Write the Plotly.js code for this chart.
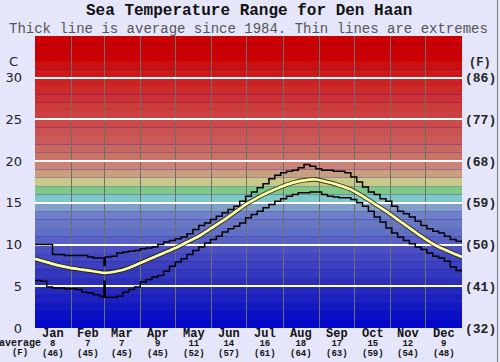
<!DOCTYPE html>
<html>
<head>
<meta charset="utf-8">
<script src="https://cdn.plot.ly/plotly-3.0.1.min.js"></script>
<style>
html,body{margin:0;padding:0;background:#e6e6fa;}
#wrap{position:relative;width:500px;height:362px;}
#chart{position:absolute;left:0;top:0;width:500px;height:362px;}
#frame{position:absolute;left:0;top:0;width:498px;height:362px;box-sizing:border-box;border-right:1px solid #777;pointer-events:none;}
</style>
</head>
<body>
<div id="wrap"><div id="chart"></div><div id="frame"></div></div>
<script>
// ---- data ----
var months = ["Jan","Feb","Mar","Apr","May","Jun","Jul","Aug","Sep","Oct","Nov","Dec"];
var monthMid = [15.5,45,74.5,105,135.5,166,196.5,227.5,258,288.5,319,349.5];
var monthStart = [0,31,59,90,120,151,181,212,243,273,304,334,365];
var avgC = [8,7,7,9,11,14,16,18,17,15,12,9];
var avgF = [46,45,45,45,52,57,61,64,63,59,54,48];

var extDays = [0,5,10,15,20,25,30,35,40,45,50,55,58,59,60,65,70,75,80,85,90,95,100,105,110,115,120,125,130,135,140,145,150,155,160,165,170,175,180,185,190,195,200,205,210,215,220,225,230,235,240,245,250,255,260,265,270,275,280,285,290,295,300,305,310,315,320,325,330,335,340,345,350,355,360,365];
var maxT = [10.0,10.0,10.0,8.8,8.8,8.7,8.7,8.7,8.7,8.5,8.4,8.4,8.4,7.5,8.5,8.6,9.0,9.1,9.2,9.3,9.5,9.6,9.7,10.0,10.3,10.5,10.7,10.9,11.3,11.8,12.3,12.6,13.0,13.4,13.8,14.2,14.6,15.2,15.8,16.3,16.8,17.3,17.9,18.3,18.6,18.8,18.9,19.2,19.6,19.4,19.1,18.9,18.9,18.8,18.8,18.6,18.1,17.5,16.9,16.3,16.0,15.5,15.2,14.6,14.0,13.7,13.3,12.8,12.3,11.9,11.6,11.4,11.0,10.6,10.4,10.2];
var minT = [5.7,5.6,4.9,4.8,4.8,4.7,4.7,4.6,4.3,4.2,4.0,3.8,3.7,5.6,3.7,3.7,3.8,4.3,4.6,4.9,5.5,5.8,6.1,6.3,6.8,7.4,7.9,8.3,8.8,9.3,9.7,10.2,10.6,11.0,11.5,11.9,12.2,12.6,13.2,13.6,14.0,14.4,14.8,15.2,15.5,15.8,16.0,16.2,16.2,16.3,16.3,16.0,15.8,15.7,15.6,15.6,15.4,15.0,14.6,14.0,13.3,12.7,12.0,11.4,10.9,10.5,10.1,9.7,9.4,9.0,8.6,8.4,8.0,7.3,6.9,6.7];

var avgDays = [0,10,20,30,40,50,60,70,80,90,100,110,120,130,140,150,160,170,180,190,200,210,220,230,240,250,260,270,280,290,300,310,320,330,340,350,360,365];
var avgT = [8.3,7.9,7.5,7.2,7.0,6.8,6.6,6.8,7.2,7.8,8.4,9.0,9.6,10.3,11.0,11.9,12.8,13.8,14.8,15.6,16.3,16.9,17.4,17.7,17.8,17.5,17.1,16.6,15.8,14.9,14.0,13.0,12.0,11.0,10.1,9.4,8.8,8.5];

var cTicks = [0,5,10,15,20,25,30];
var fTicks = [32,41,50,59,68,77,86];
var fTickText = ["(32)","(41)","(50)","(59)","(68)","(77)","(86)"];

var titleText = "Sea Temperature Range for Den Haan";
var subtitleText = "Thick line is average since 1984. Thin lines are extremes";

// one colour per 1-degree band, from 0-1 C up to 34-35 C
var bandColors = ["#0408c8","#0c10c4","#1418c0","#1c20c0","#2428bc","#2c30b8","#3438bc","#3c40bc","#4448c0","#4c50c0",
  "#5860c4","#6070c4","#6a78c4","#7080c8","#80a0c8","#80c8c8","#80c888","#c8c888","#c8a080","#cc8478",
  "#c87466","#c86a60","#ca5a5a","#cc5252","#cc4a4a","#cc4242","#cc3a3a","#cc3232","#cc2a2a","#cc2222",
  "#cc1818","#cc1010","#cc0000","#cc0000","#cc0000"];

// ---- layout helpers ----
var PT = 36, PB = 328, PH = PB - PT;
function py(px){ return (PB - px) / PH; }
var mono = "Liberation Mono, Courier New, monospace";

var shapes = bandColors.map(function(c, i){
  return {type:"rect", layer:"below", xref:"paper", x0:0, x1:1, yref:"y", y0:i, y1:i+1,
          fillcolor:c, line:{width:0}};
});

var annotations = [
  {text:"<b>"+titleText+"</b>", xref:"paper", yref:"paper", x:0.5, y:py(10.5),
   xanchor:"center", yanchor:"middle", showarrow:false, font:{family:mono, size:16, color:"#111"}},
  {text:subtitleText, xref:"paper", yref:"paper", x:0.5, y:py(29),
   xanchor:"center", yanchor:"middle", showarrow:false, font:{family:mono, size:14, color:"#555"}},
  {text:"C", xref:"paper", yref:"paper", x:-0.05, y:py(61), xanchor:"center", yanchor:"middle", showarrow:false,
   font:{family:"DejaVu Sans", size:13, color:"#222"}},
  {text:"<b>(F)</b>", xref:"paper", yref:"paper", x:1.042, y:py(63), xanchor:"center", yanchor:"middle", showarrow:false,
   font:{family:mono, size:12, color:"#222"}},
  {text:"<b><span style='font-size:10px'>average</span></b><br><b><span style='font-size:9px'>(F)</span></b>",
   xref:"paper", yref:"paper", x:-0.034, y:py(347.5), xanchor:"center", yanchor:"middle", showarrow:false,
   font:{family:mono, size:7.3, color:"#111"}}
];
months.forEach(function(m, i){
  annotations.push({
    text:"<b><span style='font-size:12px'>"+m+"</span></b><br><b><span style='font-size:9px'>"+avgC[i]+
         "</span></b><br><b><span style='font-size:9px'>("+avgF[i]+")</span></b>",
    xref:"x", yref:"paper", x:monthMid[i], y:py(342.5), xanchor:"center", yanchor:"middle",
    showarrow:false, font:{family:mono, size:7.3, color:"#111"}});
});

var traces = [
  {x:extDays, y:maxT, mode:"lines", line:{color:"#000", width:1.5, shape:"hv"}, hoverinfo:"skip", showlegend:false},
  {x:extDays, y:minT, mode:"lines", line:{color:"#000", width:1.5, shape:"hv"}, hoverinfo:"skip", showlegend:false},
  {x:avgDays, y:avgT, mode:"lines", line:{color:"rgba(30,30,0,0.85)", width:4.5, shape:"spline", smoothing:0.6}, hoverinfo:"skip", showlegend:false},
  {x:avgDays, y:avgT, mode:"lines", line:{color:"#ffffa8", width:2.7, shape:"spline", smoothing:0.6}, hoverinfo:"skip", showlegend:false},
  {x:[monthStart[0]], y:[fTicks[0]], yaxis:"y2", mode:"markers", marker:{opacity:0}, hoverinfo:"skip", showlegend:false}
];

var layout = {
  width:500, height:362,
  margin:{l:35, r:38, t:PT, b:362-PB, pad:0},
  paper_bgcolor:"#e6e6fa", plot_bgcolor:"#0000c8",
  showlegend:false,
  xaxis:{range:[0,365], tickvals:monthStart, showticklabels:false, ticks:"", showgrid:true,
         gridcolor:"#6e6e6e", gridwidth:1, zeroline:false, showline:false, fixedrange:true},
  yaxis:{range:[0,35], tickvals:cTicks, ticks:"", showgrid:true, gridcolor:"#ffffff", gridwidth:2,
         zeroline:false, showline:false, ticklabelstandoff:12,
         tickfont:{family:"DejaVu Sans", size:13, color:"#222"}, fixedrange:true},
  yaxis2:{range:[32,95], overlaying:"y", side:"right", tickvals:fTicks, ticktext:fTickText, ticks:"",
          showgrid:false, zeroline:false, showline:false, ticklabelstandoff:2,
          tickfont:{family:mono, size:13, color:"#222", weight:"bold"}, fixedrange:true},
  shapes:shapes,
  annotations:annotations
};

Plotly.newPlot("chart", traces, layout, {displayModeBar:false, staticPlot:true});
</script>
</body>
</html>
